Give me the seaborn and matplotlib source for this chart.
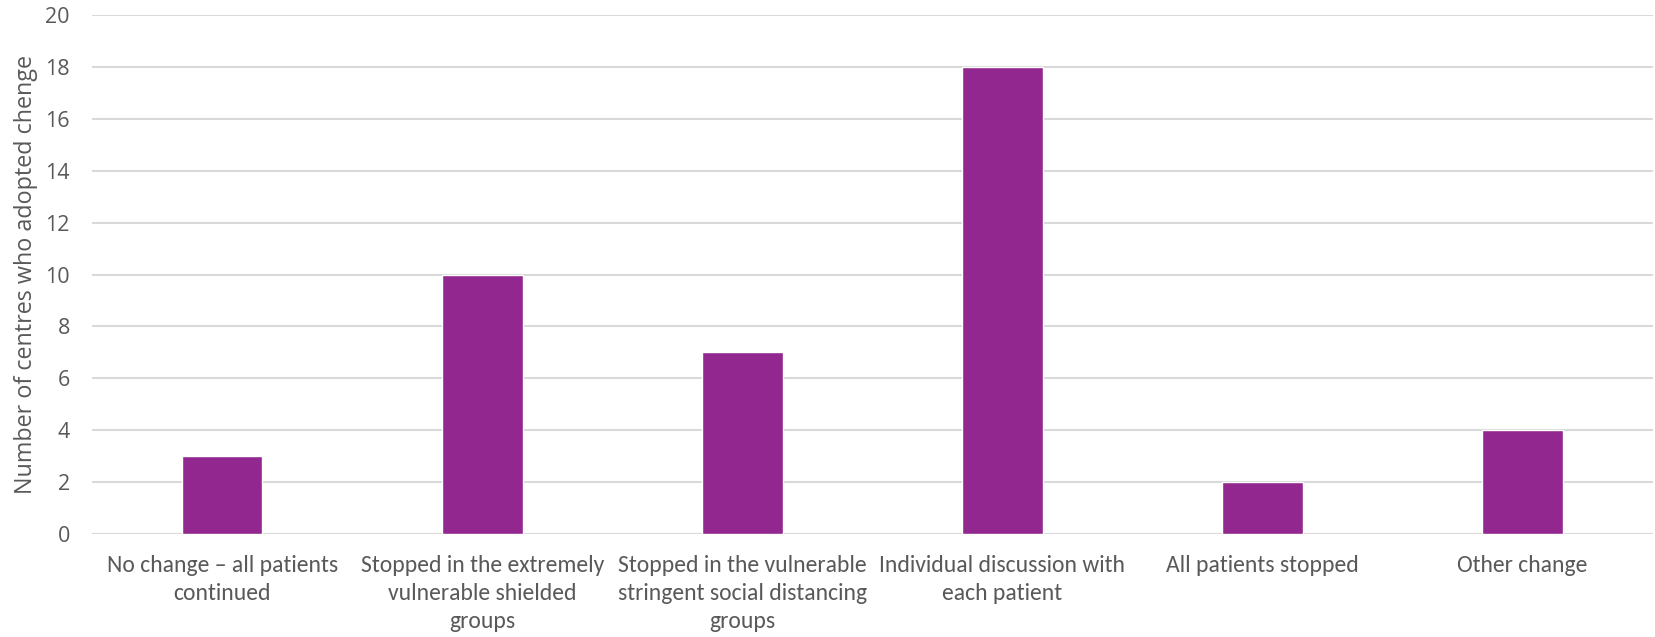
import matplotlib
matplotlib.use("Agg")
import matplotlib.pyplot as plt
import seaborn as sns
import pandas as pd

categories = [
    "No change \u2013 all patients\ncontinued",
    "Stopped in the extremely\nvulnerable shielded\ngroups",
    "Stopped in the vulnerable\nstringent social distancing\ngroups",
    "Individual discussion with\neach patient",
    "All patients stopped",
    "Other change",
]
centres = [3, 10, 7, 18, 2, 4]
yticks = [0, 2, 4, 6, 8, 10, 12, 14, 16, 18, 20]

sns.set_style("white")
plt.rcParams["font.family"] = ["Open Sans", "DejaVu Sans"]

df = pd.DataFrame({"category": categories, "centres": centres})

fig, ax = plt.subplots(figsize=(16.56, 6.37), dpi=100)
fig.subplots_adjust(left=0.0556, right=0.998, top=0.976, bottom=0.162)

sns.barplot(data=df, x="category", y="centres", color="#92278F",
            saturation=1, width=0.31, ax=ax, zorder=3)

ax.set_ylim(0, 20)
ax.set_yticks(yticks)
ax.yaxis.grid(True, color="#D9D9D9", linewidth=1.5, zorder=0)
ax.set_axisbelow(True)
for s in ["top", "right", "left", "bottom"]:
    ax.spines[s].set_visible(False)
ax.axhline(0, color="#D9D9D9", linewidth=1.5, zorder=1)

ax.tick_params(axis="y", length=0, labelsize=15.5, colors="#595959", pad=16)
ax.tick_params(axis="x", length=0, colors="#595959", pad=15)
for lbl in ax.get_xticklabels():
    lbl.set_fontfamily(["Carlito", "Liberation Sans", "DejaVu Sans"])
    lbl.set_fontsize(17)
    lbl.set_linespacing(1.42)
ax.set_xlabel("")
ax.set_ylabel("Number of centres who adopted chenge", fontsize=16.8,
              color="#595959", labelpad=5)

plt.savefig("out.png", dpi=100)
